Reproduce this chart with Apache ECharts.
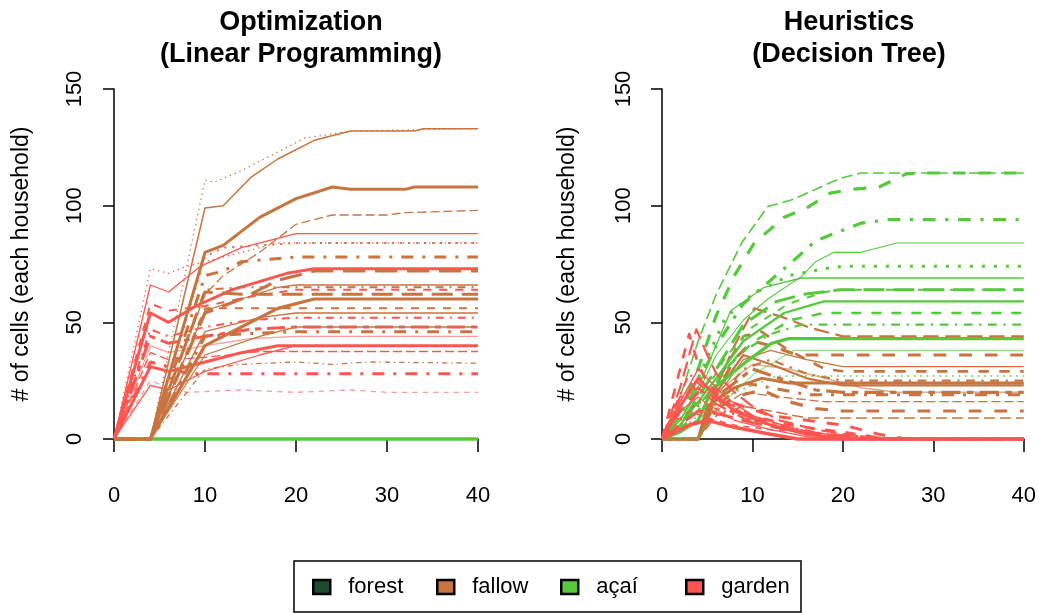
<!DOCTYPE html>
<html>
<head>
<meta charset="utf-8">
<script src="https://cdn.jsdelivr.net/npm/echarts@6/dist/echarts.min.js"></script>
<style>
  html, body { margin: 0; padding: 0; background: #fff; }
  #chart { width: 1039px; height: 613px; }
</style>
</head>
<body>
<div id="chart"></div>
<script>
// ---- axes ----
const xTicks = [0, 10, 20, 30, 40];
const yTicks = [0, 50, 100, 150];
const landUses = ['forest', 'fallow', 'açaí', 'garden'];
const panelTitles = ['Optimization\n(Linear Programming)', 'Heuristics\n(Decision Tree)'];
const yTitle = '# of cells (each household)';

// ---- Optimization (Linear Programming): [time step, cells] per household ----
const optGarden = [
  [[0,0],[4,66],[6,63],[9.5,74],[14,82],[20,88],[40,88]],
  [[0,0],[4,73],[6,71],[8,74],[12,78],[18,84],[40,84]],
  [[0,0],[4,54],[6,50],[9,57],[13,64],[19,71],[22,73],[40,73]],
  [[0,0],[4,58],[6,55],[10,57],[15,61],[20,64],[40,64]],
  [[0,0],[4,47],[6,44],[10,48],[15,51],[20,52],[40,52]],
  [[0,0],[4,44],[6,41],[10,44],[15,47],[20,48],[40,48]],
  [[0,0],[4,40],[6,37],[10,40],[15,43],[20,44],[40,44]],
  [[0,0],[4,31],[6,29],[10,33],[14,37],[18,40],[40,40]],
  [[0,0],[4,37],[6,34],[10,35],[16,37.5],[40,37.5]],
  [[0,0],[4,33],[6,31],[8,28],[40,28]],
  [[0,0],[4,25],[6,22],[8,20],[14,21],[20,20],[26,21],[30,20],[40,20]],
  [[0,0],[4,23],[6,21],[10,29],[16,36],[20,40],[40,40]]
];
const optFallow = [
  [[0,0],[4,0],[10,99],[12,100],[15,112],[18,120],[22,128],[26,132],[33,132],[34,133],[40,133]],
  [[0,0],[4,0],[10,111],[11,110],[14,115],[17.5,122],[21,129],[26,132],[40,133]],
  [[0,0],[4,0],[10,80],[12,83],[16,95],[20,103],[24,108],[26,107],[32,107],[33,108],[40,108]],
  [[0,0],[4,0],[10,62],[12,70],[16,80],[20,92],[24,96],[30,96],[32,97],[40,98]],
  [[0,0],[4,0],[10,78],[12,82],[20,84],[40,84]],
  [[0,0],[4,0],[10,70],[12,72],[14,76],[20,78],[40,78]],
  [[0,0],[4,0],[10,54],[14,60],[18,68],[22,72],[40,72]],
  [[0,0],[4,0],[10,55],[14,60],[18,65],[20,66],[40,66]],
  [[0,0],[4,0],[10,64],[14,65],[40,65]],
  [[0,0],[4,0],[10,63],[14,62],[40,62]],
  [[0,0],[4,0],[10,40],[14,48],[18,56],[22,60],[40,60]],
  [[0,0],[4,0],[10,56],[14,56],[40,56]],
  [[0,0],[4,0],[10,46],[16,52],[20,54],[40,54]],
  [[0,0],[4,0],[10,44],[14,45],[20,46],[40,46]],
  [[0,0],[4,0],[10,30],[14,32],[20,33],[24,32],[28,33],[40,32.5]],
  [[0,0],[4,0],[10,36],[16,44],[20,48],[40,48]]
];
const optAcai = [
  [[0,0],[40,0]]
];

// ---- Heuristics (Decision Tree) ----
const heurAcai = [
  [[0,0],[2,18],[4,42],[6,62],[8.8,84],[11.7,99.6],[14.3,102.4],[17,107],[19.7,111.7],[22,114],[40,114]],
  [[0,0],[2,12],[4,30],[6,53],[8,70],[10.2,84],[13.5,95],[16,99],[18.6,105.4],[21,107],[24,108],[27,113.6],[29,114],[40,114]],
  [[0,0],[2,10],[4,24],[6,40],[9,58],[12,68],[15,78],[17,85],[22,92.5],[25,94],[40,94]],
  [[0,0],[2,8],[4,20],[6,36],[9,51],[11.7,60],[15.4,69.6],[17,76],[19,80],[22,80],[26,84],[40,84]],
  [[0,0],[2,10],[4,26],[7,52],[10,62],[14,70],[18,73],[20,74],[40,74]],
  [[0,0],[2,8],[4,22],[7.6,55],[11.3,65],[15.4,69],[40,69]],
  [[0,0],[2,6],[4,18],[6,30],[9,49],[12.7,59],[15.7,62],[19.7,64],[40,64]],
  [[0,0],[2,5],[4,15],[7,35],[10,48],[14,58],[18,63],[20,64],[40,64]],
  [[0,0],[2,6],[4,16],[6,26],[9,42],[13.5,54],[17.9,59],[40,59]],
  [[0,0],[2,4],[4,12],[7,30],[10.2,42],[14.3,51],[17.9,54],[40,54]],
  [[0,0],[2,5],[4,14],[8.4,36],[12,45],[15.4,49],[40,49]],
  [[0,0],[2,3],[4,8],[5.5,21],[9.1,32.5],[12.1,41],[14,43],[40,43]],
  [[0,0],[4,0],[5.5,11],[10.2,28],[14.6,38],[40,38]],
  [[0,0],[2,4],[4,10],[8,20],[12.7,27],[40,27]]
];
const heurFallow = [
  [[0,0],[4,0],[6,22],[8,40],[10.2,56],[13.5,52],[16.4,47.6],[20,44],[40,44]],
  [[0,0],[4,0],[6,20],[8,34],[10,42],[12,40],[15,36],[40,36]],
  [[0,0],[4,0],[6,18],[9,34],[12,38],[16,34],[20,31],[40,31]],
  [[0,0],[4,0],[6,24],[9,44],[11,46],[14,38],[18,30],[20,29],[40,29]],
  [[0,0],[4,0],[6,16],[9,30],[12,34],[16,28],[20,25],[40,25]],
  [[0,0],[4,0],[5,14],[8,22],[11,26],[14,24],[18,24],[40,24]],
  [[0,0],[4,0],[6,20],[9,36],[12,32],[16,26],[20,23],[40,23]],
  [[0,0],[4,0],[6,18],[10,30],[13,26],[17,21],[20,20],[40,20]],
  [[0,0],[4,0],[6,14],[9,24],[12,22],[16,19],[40,19]],
  [[0,0],[4,0],[6,12],[9,20],[13,18],[18,16],[40,16]],
  [[0,0],[4,0],[5,10],[8,18],[11,21],[14,16],[17,13],[20,12],[40,12]],
  [[0,0],[4,0],[6,10],[9,14],[12,12],[16,9],[40,9]],
  [[0,0],[4,0],[6,20],[10,32],[14,30],[18,26],[22,22],[26,20],[40,20]]
];
const heurGarden = [
  [[0,0],[2,22],[3.8,47],[5,36],[6,28],[8,20],[10,14],[13,8],[17,4],[22,1],[26,0],[40,0]],
  [[0,0],[2,30],[3,45],[4,32],[5,24],[7,16],[10,10],[14,6],[20,3],[25,0],[40,0]],
  [[0,0],[2,16],[4,30],[5,26],[7,18],[10,10],[15,4],[20,1],[24,0],[40,0]],
  [[0,0],[1,10],[3,28],[4,24],[6,17],[9,11],[13,6],[18,2],[22,0],[40,0]],
  [[0,0],[2,14],[4,26],[5,22],[8,12],[12,6],[16,2],[20,0],[40,0]],
  [[0,0],[2,12],[4,20],[6,18],[9,14],[12,10],[16,8],[20,6],[24,2],[27,0],[40,0]],
  [[0,0],[2,18],[4,22],[6,15],[9,9],[13,5],[18,1],[21,0],[40,0]],
  [[0,0],[2,8],[4,16],[6,13],[10,8],[15,4],[20,1],[23,0],[40,0]],
  [[0,0],[2,12],[4,18],[5,15],[8,8],[12,4],[16,1],[19,0],[40,0]],
  [[0,0],[2,6],[4,12],[6,11],[10,7],[14,4],[18,2],[22,1],[25,0],[40,0]],
  [[0,0],[1,6],[3,12],[5,9],[8,6],[12,4],[16,3],[19,1],[22,0],[40,0]],
  [[0,0],[3,6],[5,8],[8,5],[12,2],[15,0],[40,0]]
];

// ---- line looks per household: [dash kind, width, opacity] ----
const optGardenLook = [['solid',1.3],['dotted',1.3],['solid',3],['dashed',2],['dotdash',2],['twodash',3],
  ['solid',1.3,0.6],['solid',3],['longdash',1.3],['dotdash',3],['dashed',1.3,0.6],['solid',1.3]];
const optFallowLook = [['solid',1.5],['dotted',1.3],['solid',3],['longdash',1.3],['dotted',2],['dotdash',3],
  ['longdash',3.2],['solid',1.3],['dotdash',2],['longdash',3],['solid',3.2],['dashed',2],['solid',1.3],
  ['dotdash',3],['dotdash',1.3],['solid',1.3]];
const optAcaiLook = [['solid',3.5]];
const heurAcaiLook = [['longdash',1.6],['dashed',3.2],['dotdash',3.2],['solid',1.1],['dotted',3],['solid',1.3],
  ['longdash',3],['dashed',2],['solid',2.2],['dashed',2.5],['dotdash',2.2],['solid',3.2],['solid',1.1,0.6],['dotted',1.6]];
const heurFallowLook = [['longdash',2.2],['dashed',3.2],['solid',1.2],['dashed',2.6],['dotdash',2.2],['solid',3],
  ['solid',2.2],['twodash',3.2],['dotdash',3],['longdash',1.3],['dashed',3.2],['longdash',1.6],['solid',1.5,0.6]];
const heurGardenLook = [['longdash',2.2],['dashed',2.6],['solid',1.5],['dotdash',2.2],['solid',3],['dashed',3],
  ['twodash',2.2],['dotted',2.2],['solid',1.2],['longdash',3],['dashed',1.5],['solid',3.5]];

const colors = { forest: '#1E4A30', fallow: '#C87440', 'açaí': '#55C83C', garden: '#FF5550' };
const FONT = '"Liberation Sans", Arial, Helvetica, sans-serif';

const dashUnits = {
  dashed: [4, 4], dotted: [1, 3], dotdash: [1, 3, 4, 3], longdash: [7, 3], twodash: [2, 2, 6, 2]
};
function dashOf(kind, w) {
  const u = dashUnits[kind];
  if (!u) return 'solid';
  const s = Math.max(w, 1.2);
  return u.map(v => v * s);
}

function groupSeries(name, paths, looks, gi) {
  return paths.map((p, i) => {
    const [kind, w, op] = looks[i % looks.length];
    return {
      type: 'line', name, xAxisIndex: gi, yAxisIndex: gi,
      data: p, symbol: 'none', showSymbol: false, clip: false, silent: true,
      animation: false,
      itemStyle: { color: colors[name] },
      lineStyle: { color: colors[name], width: w, type: dashOf(kind, w), opacity: op == null ? 1 : op, cap: 'butt', join: 'round' },
      emphasis: { disabled: true }
    };
  });
}

const series = [
  { type: 'line', name: 'forest', data: [], xAxisIndex: 0, yAxisIndex: 0, symbol: 'none',
    itemStyle: { color: colors.forest }, lineStyle: { color: colors.forest } },
  ...groupSeries('açaí', optAcai, optAcaiLook, 0),
  ...groupSeries('garden', optGarden, optGardenLook, 0),
  ...groupSeries('fallow', optFallow, optFallowLook, 0),
  ...groupSeries('fallow', heurFallow, heurFallowLook, 1),
  ...groupSeries('açaí', heurAcai, heurAcaiLook, 1),
  ...groupSeries('garden', heurGarden, heurGardenLook, 1)
];

const panelLeft = [114, 662];
const plotW = 364, plotTop = 89, plotH = 350;

function xAxisFor(gi) {
  return {
    type: 'value', gridIndex: gi, min: xTicks[0], max: xTicks[xTicks.length - 1],
    interval: xTicks[1] - xTicks[0], offset: 14,
    axisLine: { show: true, lineStyle: { color: '#000', width: 1.5 } },
    axisTick: { show: true, length: 13, lineStyle: { color: '#000', width: 1.5 } },
    axisLabel: { fontSize: 22, color: '#000', fontFamily: FONT, margin: 32 },
    splitLine: { show: false }
  };
}
function yAxisFor(gi) {
  return {
    type: 'value', gridIndex: gi, min: yTicks[0], max: yTicks[yTicks.length - 1],
    interval: yTicks[1] - yTicks[0], offset: gi === 0 ? 6 : 5,
    axisLine: { show: true, lineStyle: { color: '#000', width: 1.5 } },
    axisTick: { show: true, length: 11, lineStyle: { color: '#000', width: 1.5 } },
    axisLabel: { fontSize: 22, color: '#000', fontFamily: FONT, rotate: 90, margin: 22 },
    splitLine: { show: false }
  };
}

const legendX = [312, 436, 560, 685];
const legends = landUses.map((name, i) => ({
  show: true, left: legendX[i], top: 575, orient: 'horizontal', padding: 0,
  icon: 'rect', itemWidth: 17, itemHeight: 14, selectedMode: false,
  itemStyle: { borderColor: '#000', borderWidth: 2.5, borderType: 'solid' },
  data: [{ name, itemStyle: { color: colors[name], borderColor: '#000', borderWidth: 2.5, borderType: 'solid' } }],
  textStyle: { fontSize: 22, color: '#000', fontFamily: FONT, padding: [0, 0, 0, 13], lineHeight: 24 }
}));

const option = {
  backgroundColor: '#fff',
  animation: false,
  title: panelTitles.map((t, i) => ({
    text: t, left: panelLeft[i] + plotW / 2, top: 2, textAlign: 'center',
    textStyle: { fontSize: 27, fontWeight: 'bold', color: '#000', fontFamily: FONT, lineHeight: 32 }
  })),
  grid: panelLeft.map(l => ({ left: l, top: plotTop, width: plotW, height: plotH, containLabel: false })),
  xAxis: [xAxisFor(0), xAxisFor(1)],
  yAxis: [yAxisFor(0), yAxisFor(1)],
  legend: legends,
  graphic: [
    { type: 'text', x: 22, y: 264, rotation: Math.PI / 2,
      style: { text: yTitle, fontSize: 23, fontFamily: FONT, fill: '#000', textAlign: 'center', textVerticalAlign: 'middle' } },
    { type: 'text', x: 568, y: 264, rotation: Math.PI / 2,
      style: { text: yTitle, fontSize: 23, fontFamily: FONT, fill: '#000', textAlign: 'center', textVerticalAlign: 'middle' } },
    { type: 'rect', shape: { x: 294, y: 561, width: 507, height: 51 },
      style: { fill: 'none', stroke: '#000', lineWidth: 1.5 } }
  ],
  series
};

const chart = echarts.init(document.getElementById('chart'), null, { renderer: 'canvas' });
chart.setOption(option);
</script>
</body>
</html>
